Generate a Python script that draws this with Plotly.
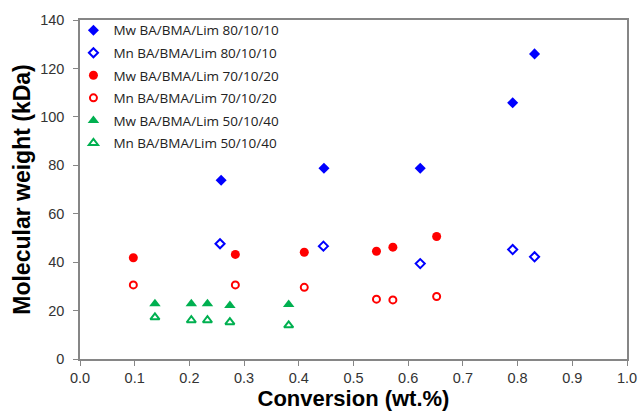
import plotly.graph_objects as go

# Data
mw_80_x = [0.258, 0.446, 0.622, 0.791, 0.831]
mw_80_y = [73.8, 78.8, 78.8, 105.8, 126.0]
mn_80_x = [0.256, 0.445, 0.622, 0.791, 0.831]
mn_80_y = [47.6, 46.6, 39.4, 45.2, 42.2]

mw_70_x = [0.0975, 0.284, 0.410, 0.542, 0.572, 0.652]
mw_70_y = [41.8, 43.2, 44.1, 44.5, 46.2, 50.6]
mn_70_x = [0.0975, 0.284, 0.410, 0.542, 0.572, 0.652]
mn_70_y = [30.6, 30.6, 29.6, 24.7, 24.4, 25.8]

mw_50_x = [0.137, 0.2035, 0.233, 0.274, 0.3815]
mw_50_y = [22.8, 22.8, 22.8, 22.1, 22.5]
mn_50_x = [0.137, 0.2035, 0.233, 0.274, 0.3815]
mn_50_y = [17.2, 16.0, 16.0, 15.2, 13.9]

names = ["Mw BA/BMA/Lim 80/10/10", "Mn BA/BMA/Lim 80/10/10",
         "Mw BA/BMA/Lim 70/10/20", "Mn BA/BMA/Lim 70/10/20",
         "Mw BA/BMA/Lim 50/10/40", "Mn BA/BMA/Lim 50/10/40"]

x_ticks = [0.0, 0.1, 0.2, 0.3, 0.4, 0.5, 0.6, 0.7, 0.8, 0.9, 1.0]
y_ticks = [0, 20, 40, 60, 80, 100, 120, 140]

BLUE = "#0000FF"
RED = "#FF0000"
GREEN = "#00B050"

series = [
    (mw_80_x, mw_80_y, names[0], "diamond", BLUE, 8.5, 0),
    (mn_80_x, mn_80_y, names[1], "diamond-open", BLUE, 7, 2),
    (mw_70_x, mw_70_y, names[2], "circle", RED, 9, 0),
    (mn_70_x, mn_70_y, names[3], "circle-open", RED, 7, 2),
    (mw_50_x, mw_50_y, names[4], "triangle-up", GREEN, 10, 0),
    (mn_50_x, mn_50_y, names[5], "triangle-up-open", GREEN, 8, 2),
]

fig = go.Figure()
for i, (xs, ys, nm, sym, col, sz, lw) in enumerate(series):
    fig.add_trace(go.Scatter(
        x=xs, y=ys, mode="markers", name=nm, legendgroup=f"g{i}",
        marker=dict(symbol=sym, color=col, size=sz,
                    line=dict(color=col, width=lw))
    ))

FONT = "Liberation Sans, Arial"
axis_common = dict(
    showline=True, linecolor="#868686", linewidth=1.5, mirror=True,
    ticks="outside", ticklen=5, tickcolor="#868686", tickwidth=1,
    showgrid=False, zeroline=False, automargin=False,
    tickfont=dict(family=FONT, size=14.5, color="#333333"),
)

fig.update_xaxes(range=[0, 1.0], tickvals=x_ticks,
                 ticktext=[f"{v:.1f}" for v in x_ticks],
                 title=dict(text="<b>Conversion (wt.%)</b>", standoff=4,
                            font=dict(family=FONT, size=22, color="#000000")),
                 **axis_common)
fig.update_yaxes(range=[0, 140], tickvals=y_ticks, ticklabelstandoff=6,
                 title=dict(text="<b>Molecular weight (kDa)</b>", standoff=3,
                            font=dict(family=FONT, size=23, color="#000000")),
                 **axis_common)

fig.update_layout(
    width=640, height=414,
    margin=dict(l=80, r=13, t=20, b=55),
    paper_bgcolor="white", plot_bgcolor="white",
    showlegend=True,
    legend=dict(x=-0.012, y=1.015, xanchor="left", yanchor="top",
                bgcolor="rgba(0,0,0,0)", borderwidth=0,
                font=dict(family="Open Sans, Liberation Sans", size=13.5, color="#222222"),
                itemwidth=30, tracegroupgap=2),
)

fig.write_html("out.html")
